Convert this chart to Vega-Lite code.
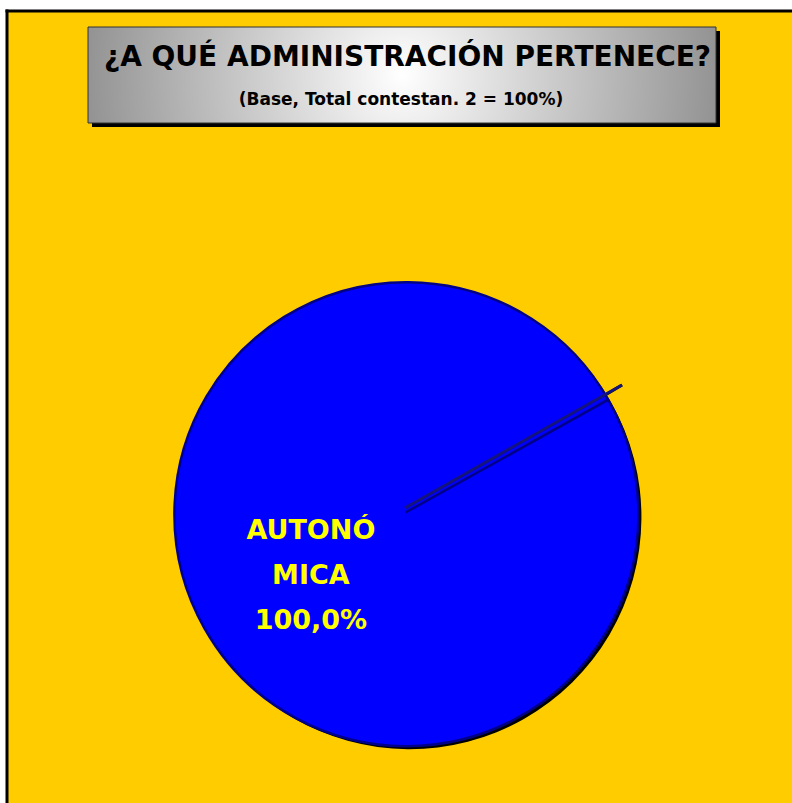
{
  "$schema": "https://vega.github.io/schema/vega-lite/v6.json",
  "width": 792,
  "height": 803,
  "autosize": {"type": "none"},
  "padding": 0,
  "background": "#ffffff",
  "config": {"view": {"stroke": null}},
  "data": {"values": [{"administracion": "AUTONÓMICA", "porcentaje": 100}]},
  "layer": [
    {
      "data": {"values": [{}]},
      "mark": {"type": "rect", "fill": "#FFCC00", "clip": true},
      "encoding": {
        "x": {"datum": -398.5, "type": "quantitative", "scale": {"domain": [-405.5, 386.5], "nice": false, "zero": false}, "axis": null},
        "x2": {"datum": 400},
        "y": {"datum": 501.5, "type": "quantitative", "scale": {"domain": [-290.5, 512.5], "nice": false, "zero": false}, "axis": null},
        "y2": {"datum": -300}
      }
    },
    {
      "data": {"values": [{}]},
      "mark": {"type": "rule", "color": "#000000", "strokeWidth": 3, "clip": true},
      "encoding": {
        "x": {"datum": -398.5, "type": "quantitative"},
        "x2": {"datum": -398.5},
        "y": {"datum": 503, "type": "quantitative"},
        "y2": {"datum": -300}
      }
    },
    {
      "data": {"values": [{}]},
      "mark": {"type": "rule", "color": "#000000", "strokeWidth": 3, "clip": true},
      "encoding": {
        "x": {"datum": -400, "type": "quantitative"},
        "x2": {"datum": 400},
        "y": {"datum": 501.5, "type": "quantitative"},
        "y2": {"datum": 501.5}
      }
    },
    {
      "data": {"values": [{}]},
      "mark": {"type": "rect", "fill": "#000000"},
      "encoding": {
        "x": {"datum": -313.5, "type": "quantitative"},
        "x2": {"datum": 314.5},
        "y": {"datum": 481.5, "type": "quantitative"},
        "y2": {"datum": 385.5}
      }
    },
    {
      "data": {"values": [{}]},
      "mark": {
        "type": "rect",
        "stroke": "#333333",
        "strokeWidth": 1,
        "fill": {
          "gradient": "radial",
          "x1": 0.5, "y1": 0.5, "r1": 0,
          "x2": 0.5, "y2": 0.5, "r2": 0.62,
          "stops": [
            {"offset": 0, "color": "#ffffff"},
            {"offset": 1, "color": "#7a7a7a"}
          ]
        }
      },
      "encoding": {
        "x": {"datum": -317.5, "type": "quantitative"},
        "x2": {"datum": 310.5},
        "y": {"datum": 485.5, "type": "quantitative"},
        "y2": {"datum": 389.5}
      }
    },
    {
      "data": {"values": [{"t": "¿A QUÉ ADMINISTRACIÓN PERTENECE?"}]},
      "mark": {"type": "text", "font": "DejaVu Sans", "fontWeight": "bold", "fontSize": 28, "color": "#000000", "align": "center", "baseline": "middle"},
      "encoding": {
        "text": {"field": "t"},
        "x": {"datum": 2, "type": "quantitative"},
        "y": {"datum": 454.5, "type": "quantitative"}
      }
    },
    {
      "data": {"values": [{"t": "(Base, Total contestan. 2 = 100%)"}]},
      "mark": {"type": "text", "font": "DejaVu Sans", "fontWeight": "bold", "fontSize": 17, "color": "#000000", "align": "center", "baseline": "middle"},
      "encoding": {
        "text": {"field": "t"},
        "x": {"datum": -4.5, "type": "quantitative"},
        "y": {"datum": 412.5, "type": "quantitative"}
      }
    },
    {
      "mark": {"type": "arc", "radius": 232, "fill": "#000000", "xOffset": 3, "yOffset": 3},
      "encoding": {
        "theta": {"field": "porcentaje", "type": "quantitative", "stack": true, "scale": {"range": [1.063, 7.346]}},
        "x": {"datum": 0, "type": "quantitative"},
        "y": {"datum": 0, "type": "quantitative"}
      }
    },
    {
      "data": {"values": [{}]},
      "mark": {"type": "rule", "color": "#000000", "strokeWidth": 3, "xOffset": 3, "yOffset": 4},
      "encoding": {
        "x": {"datum": -0.5, "type": "quantitative"},
        "y": {"datum": 4.5, "type": "quantitative"},
        "x2": {"datum": 216.5},
        "y2": {"datum": 127.5}
      }
    },
    {
      "mark": {"type": "arc", "radius": 232, "fill": "#0000FF", "stroke": "#000088", "strokeWidth": 2.5},
      "encoding": {
        "theta": {"field": "porcentaje", "type": "quantitative", "stack": true, "scale": {"range": [1.063, 7.346]}},
        "x": {"datum": 0, "type": "quantitative"},
        "y": {"datum": 0, "type": "quantitative"}
      }
    },
    {
      "data": {"values": [{}]},
      "mark": {"type": "rule", "color": "#14147a", "strokeWidth": 3},
      "encoding": {
        "x": {"datum": -0.5, "type": "quantitative"},
        "y": {"datum": 4.5, "type": "quantitative"},
        "x2": {"datum": 216.5},
        "y2": {"datum": 127.5}
      }
    },
    {
      "transform": [
        {"calculate": "slice(datum.administracion, 0, 6) + '\\n' + slice(datum.administracion, 6) + '\\n' + replace(format(datum.porcentaje, '.1f'), '.', ',') + '%'", "as": "etiqueta"}
      ],
      "mark": {"type": "text", "radius": 114, "font": "DejaVu Sans", "fontWeight": "bold", "fontSize": 27, "color": "#FFFF00", "align": "center", "baseline": "middle", "lineBreak": "\n", "lineHeight": 45, "dx": 5, "dy": -37},
      "encoding": {
        "text": {"field": "etiqueta"},
        "theta": {"field": "porcentaje", "type": "quantitative", "stack": true, "scale": {"range": [1.063, 7.346]}},
        "x": {"datum": 0, "type": "quantitative"},
        "y": {"datum": 0, "type": "quantitative"}
      }
    }
  ]
}
